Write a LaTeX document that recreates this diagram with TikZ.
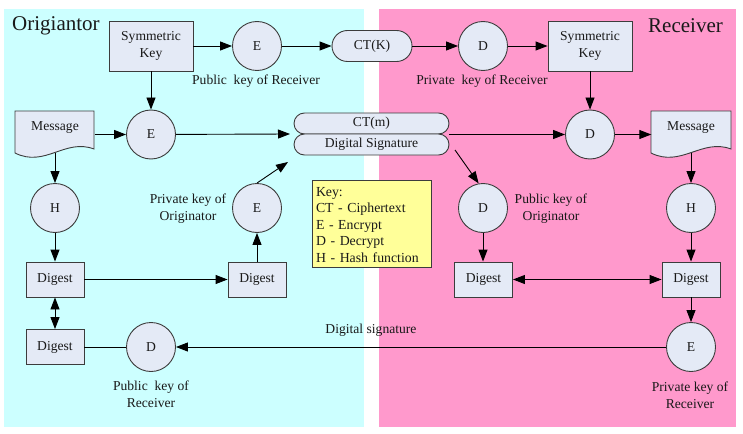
\documentclass[tikz,border=0pt]{standalone}
\usepackage{fontspec}
\setmainfont{Liberation Serif}
\usetikzlibrary{arrows.meta,calc}
\definecolor{cyanbg}{RGB}{204,255,255}
\definecolor{pinkbg}{RGB}{255,153,204}
\definecolor{nodefill}{RGB}{228,234,246}
\definecolor{nodeline}{RGB}{60,60,60}
\definecolor{keyfill}{RGB}{255,255,153}
\begin{document}
\begin{tikzpicture}[x=1pt,y=-1pt,
  every node/.style={font=\fontsize{13.6}{17}\selectfont, text=black!90},
  boxnode/.style={draw=nodeline, fill=nodefill, line width=0.9pt, align=center, inner sep=0pt},
  symbox/.style={boxnode, minimum width=84pt, minimum height=50pt},
  digbox/.style={boxnode, minimum width=58pt, minimum height=35pt},
  circ/.style={circle, draw=nodeline, fill=nodefill, line width=0.9pt, minimum size=49pt, inner sep=0pt},
  pill/.style={draw=nodeline, fill=nodefill, line width=0.9pt, rounded corners=#1, inner sep=0pt},
  msgnode/.style={minimum width=79pt, minimum height=50pt, inner sep=0pt},
  docshape/.style={draw=nodeline, fill=nodefill, line width=0.9pt},
  keybox/.style={draw=nodeline, fill=keyfill, line width=0.9pt, align=left, text width=111pt,
    inner xsep=4pt, inner ysep=0pt, minimum height=87pt, font=\fontsize{13.8}{16.5}\selectfont},
  lbl/.style={align=center, inner sep=0pt},
  titletext/.style={font=\fontsize{21}{24}\selectfont, inner sep=0pt},
  arr/.style={-{Triangle[length=12pt,width=9pt]}, line width=0.9pt, black},
  arrboth/.style={{Triangle[length=12pt,width=9pt]}-{Triangle[length=12pt,width=9pt]}, line width=0.9pt, black},
  plainline/.style={line width=0.9pt, black}
]
\useasboundingbox (0,0) rectangle (743,433);
\fill[cyanbg] (4,9) rectangle (364,427);
\fill[pinkbg] (379,9) rectangle (736,427);

% titles
\node[titletext, anchor=west] (tL) at (12,26) {Origiantor};
\node[titletext, anchor=east] (tR) at (723,26) {Receiver};

% row 1
\node[symbox] (skL) at (151,46) {Symmetric\\Key};
\node[circ] (E1) at (257,46) {E};
\node[pill=15.5pt, minimum width=80pt, minimum height=31pt] (ctk) at (372,46) {CT(K)};
\node[circ] (D1) at (483,46) {D};
\node[symbox] (skR) at (590,46) {Symmetric\\Key};
\node[lbl] (l1) at (256,81) {Public\ \ key of Receiver};
\node[lbl] (l2) at (482,81) {Private\ \ key of Receiver};

% row 2
\node[msgnode] (msgL) at (55,128) {};
\draw[docshape] ($(msgL.center)+(-40,-17)$) -- ++(79,0) -- ++(0,38)
  .. controls +(-29,-11) and +(30,15) .. ($(msgL.center)+(-40,25)$) -- cycle;
\node at (msgL.center) {Message};
\node[circ] (E2) at (151,134.5) {E};
\node[pill=10.5pt, minimum width=155pt, minimum height=21pt] (ctm) at (371.5,123.5) {CT(m)};
\node[pill=10.5pt, minimum width=155pt, minimum height=21pt] (ds) at (371.5,144.5) {Digital Signature};
\node[circ] (D2) at (590,134.5) {D};
\node[msgnode] (msgR) at (691,128) {};
\draw[docshape] ($(msgR.center)+(-40,-17)$) -- ++(80,0) -- ++(0,38)
  .. controls +(-29,-11) and +(30,15) .. ($(msgR.center)+(-40,25)$) -- cycle;
\node at (msgR.center) {Message};

\coordinate (ctin) at (290,134);
\coordinate (ctout) at (449,134.5);
\coordinate (dsout) at (455,150);
\coordinate (dsin) at (288,162);

% row 3
\node[circ] (HL) at (55,208) {H};
\node[circ] (E3) at (257,208) {E};
\node[lbl] (l3) at (188,208.5) {Private key of\\Originator};
\node[keybox] (key) at (371.5,223.5) {\rule{0pt}{12pt}Key:\\CT - Ciphertext\\E - Encrypt\\D - Decrypt\\H - Hash function};
\node[circ] (D3) at (483,208) {D};
\node[lbl] (l4) at (551,208.5) {Public key of\\Originator};
\node[circ] (HR) at (691,208) {H};

% row 4
\node[digbox] (DigL) at (55,279.5) {Digest};
\node[digbox] (DigM) at (257,279.5) {Digest};
\node[digbox] (DigR1) at (483.5,279.5) {Digest};
\node[digbox] (DigR2) at (691,279.5) {Digest};

% row 5
\node[digbox] (DigL2) at (55,347) {Digest};
\node[circ] (D4) at (151,347) {D};
\node[circ] (E4) at (691,347) {E};
\node[lbl] (l5) at (151,394.5) {Public\ \ key of\\Receiver};
\node[lbl] (l6) at (690,395) {Private key of\\Receiver};
\node[lbl] (l7) at (371,330) {Digital signature};

% connectors
\draw[arr] (skL) -- (E1);
\draw[arr] (E1) -- (ctk);
\draw[arr] (ctk) -- (D1);
\draw[arr] (D1) -- (skR);
\draw[arr] (skL) -- (E2);
\draw[arr] (msgL.east |- E2) -- (E2);
\draw[arr] (E2) -- (ctin);
\draw[arr] (E3.north) -- (dsin);
\draw[arr] (ctout) -- (D2);
\draw[arr] (dsout) -- (D3.100);
\draw[arr] (skR) -- (D2);
\draw[arr] (D2) -- (msgR.west |- D2);
\draw[arr] (msgR.south) -- (HR);
\draw[arr] (msgL.south) -- (HL);
\draw[arr] (HL) -- (DigL);
\draw[arr] (DigL) -- (DigM);
\draw[arr] (DigM) -- (E3);
\draw[arr] (D3) -- (D3 |- DigR1.north);
\draw[arr] (HR) -- (DigR2);
\draw[arrboth] (DigR1) -- (DigR2);
\draw[arr] (DigR2) -- (E4);
\draw[arrboth] (DigL) -- (DigL2);
\draw[plainline] (DigL2) -- (D4);
\draw[arr] (E4) -- (D4);
\end{tikzpicture}
\end{document}
